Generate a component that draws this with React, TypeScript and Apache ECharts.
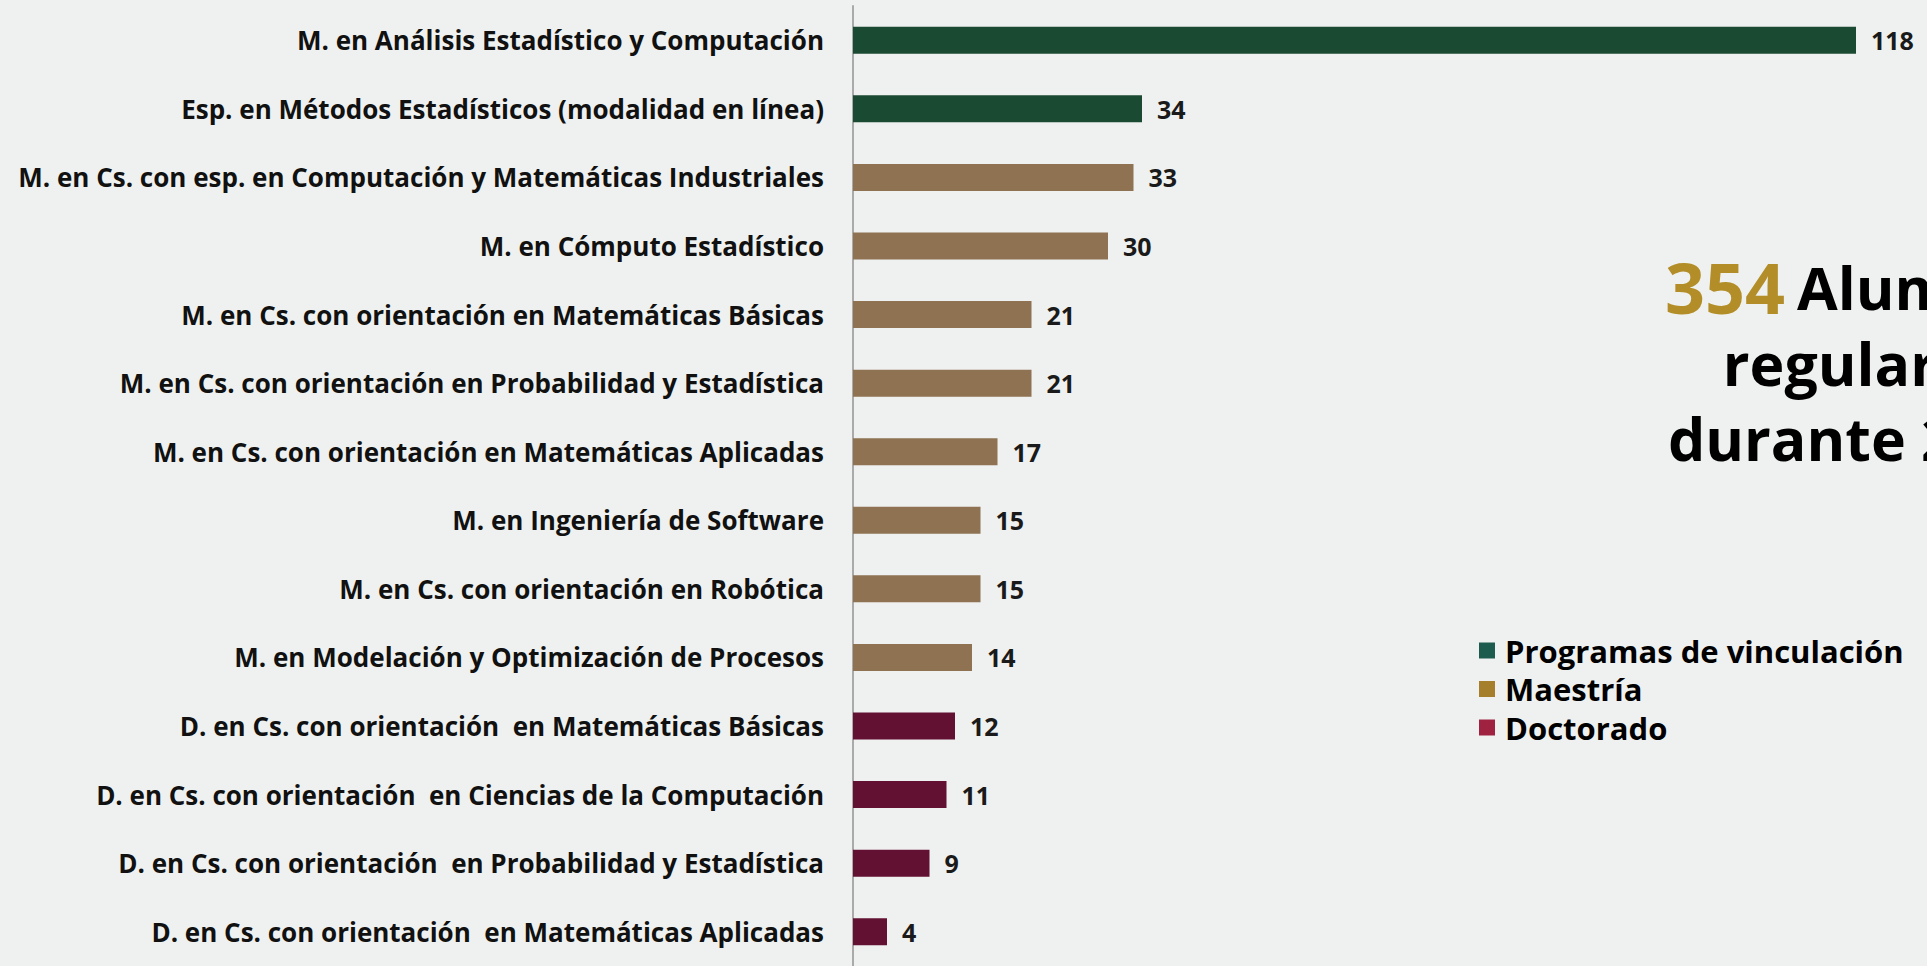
import React, { useEffect, useRef } from "react";
import * as echarts from "echarts";

const categories = [
  "M. en Análisis Estadístico y Computación",
  "Esp. en Métodos Estadísticos (modalidad en línea)",
  "M. en Cs. con esp. en Computación y Matemáticas Industriales",
  "M. en Cómputo Estadístico",
  "M. en Cs. con orientación en Matemáticas Básicas",
  "M. en Cs. con orientación en Probabilidad y Estadística",
  "M. en Cs. con orientación en Matemáticas Aplicadas",
  "M. en Ingeniería de Software",
  "M. en Cs. con orientación en Robótica",
  "M. en Modelación y Optimización de Procesos",
  "D. en Cs. con orientación  en Matemáticas Básicas",
  "D. en Cs. con orientación  en Ciencias de la Computación",
  "D. en Cs. con orientación  en Probabilidad y Estadística",
  "D. en Cs. con orientación  en Matemáticas Aplicadas",
];

const vinculacion = [118, 34, "-", "-", "-", "-", "-", "-", "-", "-", "-", "-", "-", "-"];
const maestria = ["-", "-", 33, 30, 21, 21, 17, 15, 15, 14, "-", "-", "-", "-"];
const doctorado = ["-", "-", "-", "-", "-", "-", "-", "-", "-", "-", 12, 11, 9, 4];

const seriesNames = ["Programas de vinculación", "Maestría", "Doctorado"];
const totalAlumnos = "354";

const FONT = "'Open Sans', 'Noto Sans', sans-serif";

export default function App() {
  const ref = useRef<HTMLDivElement>(null);

  useEffect(() => {
    if (!ref.current) return;
    const chart = echarts.init(ref.current, undefined, { renderer: "svg" });
    const label = {
      show: true,
      position: "right",
      distance: 15,
      fontFamily: FONT,
      fontSize: 25,
      fontWeight: "bold",
      color: "#1a1a1a",
    };
    chart.setOption({
      animation: false,
      backgroundColor: "#eff1f0",
      textStyle: { fontFamily: FONT },
      grid: { left: 853, right: 54, top: 6, bottom: 0, containLabel: false },
      xAxis: {
        type: "value",
        min: 0,
        max: 120,
        show: false,
      },
      yAxis: {
        type: "category",
        inverse: true,
        data: categories,
        axisLine: { show: true, lineStyle: { color: "#a9aaa9", width: 2 } },
        axisTick: { show: false },
        axisLabel: {
          margin: 29,
          fontFamily: FONT,
          fontSize: 26,
          fontWeight: "bold",
          color: "#111111",
        },
      },
      legend: {
        orient: "vertical",
        left: 1474,
        top: 630,
        icon: "rect",
        itemWidth: 16,
        itemHeight: 16,
        itemGap: 7.5,
        selectedMode: false,
        textStyle: {
          fontFamily: FONT,
          fontSize: 31,
          fontWeight: "bold",
          color: "#000000",
          lineHeight: 31,
          padding: [0, 0, 0, 5],
        },
        data: [
          { name: seriesNames[0], itemStyle: { color: "#1e5b4f" } },
          { name: seriesNames[1], itemStyle: { color: "#a57f2c" } },
          { name: seriesNames[2], itemStyle: { color: "#9f2241" } },
        ],
      },
      graphic: [
        {
          type: "text",
          left: 1665,
          top: 252,
          style: {
            text: "{a|" + totalAlumnos + "}{b|Alumnos}",
            rich: {
              a: { fontFamily: FONT, fontSize: 70, fontWeight: "bold", fill: "#b38e28", lineHeight: 74 },
              b: {
                fontFamily: FONT,
                fontSize: 59,
                fontWeight: "bold",
                fill: "#000000",
                lineHeight: 74,
                padding: [0, 0, 0, 12],
              },
            },
          },
        },
        {
          type: "text",
          x: 1862,
          y: 392,
          style: {
            text: "regulares",
            fontFamily: FONT,
            fontSize: 59,
            fontWeight: "bold",
            fill: "#000000",
            align: "center",
            verticalAlign: "bottom",
          },
        },
        {
          type: "text",
          x: 1862,
          y: 467,
          style: {
            text: "durante 2023",
            fontFamily: FONT,
            fontSize: 59,
            fontWeight: "bold",
            fill: "#000000",
            align: "center",
            verticalAlign: "bottom",
          },
        },
      ],
      series: [
        {
          name: seriesNames[0],
          type: "bar",
          stack: "total",
          barWidth: 27,
          data: vinculacion,
          itemStyle: { color: "#1b4a32" },
          label,
        },
        {
          name: seriesNames[1],
          type: "bar",
          stack: "total",
          barWidth: 27,
          data: maestria,
          itemStyle: { color: "#8e7252" },
          label,
        },
        {
          name: seriesNames[2],
          type: "bar",
          stack: "total",
          barWidth: 27,
          data: doctorado,
          itemStyle: { color: "#621132" },
          label,
        },
      ],
    });
    return () => chart.dispose();
  }, []);

  return (
    <div
      ref={ref}
      style={{ position: "fixed", left: 0, top: 0, width: 1927, height: 966, overflow: "hidden" }}
    />
  );
}
